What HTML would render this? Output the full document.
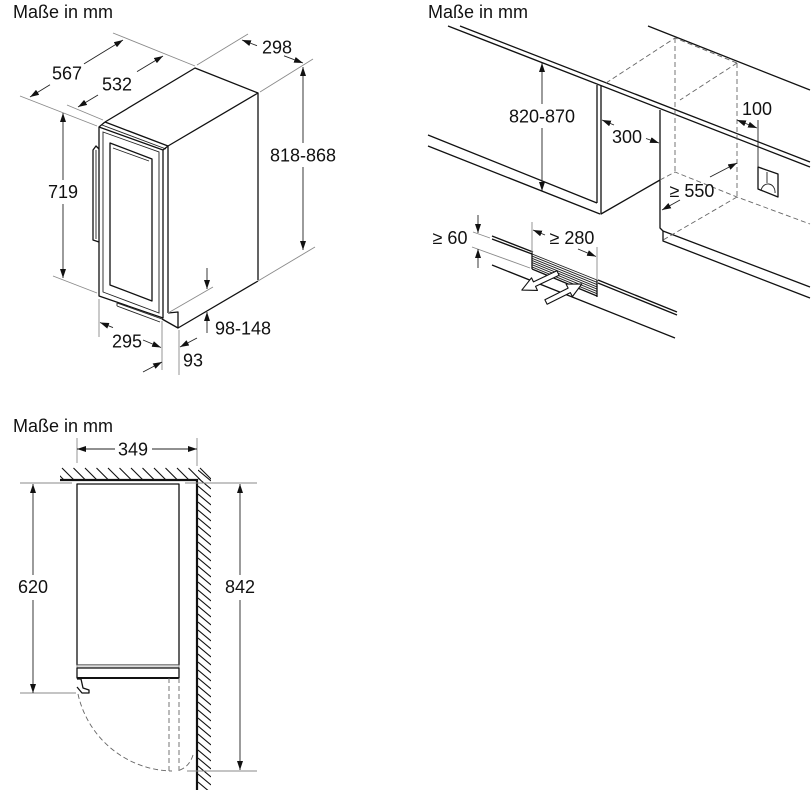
<!DOCTYPE html>
<html><head><meta charset="utf-8">
<style>
html,body{margin:0;padding:0;background:#fff;}
svg{display:block;}
text{font-family:"Liberation Sans",Arial,sans-serif;font-size:18px;fill:#111;}
.m{stroke:#111;stroke-width:1.3;fill:none;stroke-linejoin:round}
.t{stroke:#222;stroke-width:0.9;fill:none}
.d{stroke:#222;stroke-width:0.9;fill:none}
.e{stroke:#8a8a8a;stroke-width:0.9;fill:none}
.k{stroke:#666;stroke-width:0.9;fill:none;stroke-dasharray:5 3}
.h{stroke:#111;stroke-width:1.1;fill:none}
</style></head><body>
<svg width="811" height="790" viewBox="0 0 811 790" xmlns="http://www.w3.org/2000/svg">
<defs>
<marker id="a" viewBox="0 0 9 6" refX="9" refY="3" markerWidth="9" markerHeight="6" markerUnits="userSpaceOnUse" orient="auto-start-reverse"><path d="M0,0 L9,3 L0,6 z" fill="#111"/></marker>
<clipPath id="cc"><polygon points="60,467 211,467 211,480 60,480"/></clipPath>
<clipPath id="cw"><polygon points="198,467 211,467 211,790 198,790"/></clipPath>
</defs>

<!-- ============ DRAWING 1 ============ -->
<text x="13" y="18">Maße in mm</text>

<!-- top face -->
<path class="m" d="M105,122 L195,68 L258,93 L168,146"/>
<path class="m" d="M105,122 L168,146"/>
<path class="t" d="M102,125 L166,149"/>
<!-- side face -->
<path class="m" d="M168,146 V313"/>
<path class="m" d="M258,93 V280"/>
<path class="m" d="M178,328 L258,281"/>
<!-- plinth -->
<path class="m" d="M168,313 L178,312 V328 L162,319"/>
<!-- door -->
<path class="m" d="M99,127 L163,150 L163,318 L99,296 Z"/>
<path class="m" d="M99,127 L105,122 M163,150 L168,146"/>
<path class="t" d="M103,132 L159,152 L159,313 L103,292 Z"/>
<path class="m" d="M110,143 L152,159 L152,301 L110,285 Z"/>
<path class="t" d="M113,148 L149,161"/>
<!-- rail under door -->
<path class="t" d="M117,303 L162,319 M117,306 L160,322 M117,303 V306"/>
<!-- handle -->
<path class="m" d="M99,149 L96,146 L93,150 V240 L99,242"/>
<path class="t" d="M96,150 V239"/>

<!-- extension lines -->
<path class="e" d="M20,96 L97,126"/>
<path class="e" d="M67,105 L103,120"/>
<path class="e" d="M113,33 L195,66"/>
<path class="e" d="M197,65 L248,34"/>
<path class="e" d="M260,92 L313,59"/>
<path class="e" d="M258,281 L315,247"/>
<path class="e" d="M53,276 L97,293"/>
<path class="e" d="M99,299 V337"/>
<path class="e" d="M162,321 V370"/>
<path class="e" d="M179,330 V375"/>
<path class="e" d="M168,313 L213,287"/>

<!-- dimension lines -->
<path class="d" marker-end="url(#a)" d="M50,84.7 L30,97"/>
<path class="d" marker-end="url(#a)" d="M84,63.9 L123,40"/>
<path class="d" marker-end="url(#a)" d="M98,95 L78,107"/>
<path class="d" marker-end="url(#a)" d="M137,71.6 L163,56"/>
<path class="d" marker-end="url(#a)" d="M257,45.7 L242,40"/>
<path class="d" marker-end="url(#a)" d="M284,55.8 L303,63"/>
<path class="d" marker-end="url(#a)" d="M303,143 L303,67"/>
<path class="d" marker-end="url(#a)" d="M303,167 L303,250"/>
<path class="d" marker-end="url(#a)" d="M63,180 L63,113"/>
<path class="d" marker-end="url(#a)" d="M63,204 L63,278"/>
<path class="d" marker-end="url(#a)" d="M113,327.6 L100,322.5"/>
<path class="d" marker-end="url(#a)" d="M143,340 L161,347.5"/>
<path class="d" marker-end="url(#a)" d="M143,372 L162,362"/>
<path class="d" marker-end="url(#a)" d="M197,338 L180,347"/>
<path class="d" marker-end="url(#a)" d="M207,333 L207,312"/>
<path class="d" marker-end="url(#a)" d="M207,268 L207,289"/>

<text x="67" y="79.5" text-anchor="middle">567</text>
<text x="117" y="90.5" text-anchor="middle">532</text>
<text x="277" y="53.5" text-anchor="middle">298</text>
<text x="303" y="161.5" text-anchor="middle">818-868</text>
<text x="63" y="198" text-anchor="middle">719</text>
<text x="127" y="347.5" text-anchor="middle">295</text>
<text x="193" y="366.5" text-anchor="middle">93</text>
<text x="243" y="334.5" text-anchor="middle">98-148</text>

<!-- ============ DRAWING 2 ============ -->
<text x="428" y="18">Maße in mm</text>

<path class="m" d="M448,26 L810,167"/>
<path class="m" d="M460,26 L810,162"/>
<path class="m" d="M648,26 L810,90"/>
<path class="m" d="M428,135 L597,203"/>
<path class="m" d="M428,146 L600,214"/>
<path class="m" d="M597,85 V203"/>
<path class="m" d="M601,86 V214 L660,180"/>
<path class="m" d="M660,110 V228 L663,231 L810,287"/>
<path class="m" d="M663,231 V241 L810,298"/>

<!-- dashed niche -->
<path class="k" d="M606,83 L675,38 L737,63"/>
<path class="k" d="M675,38 V172"/>
<path class="k" d="M737,63 V197"/>
<path class="k" d="M660,180 L675,172 L737,197 L810,224"/>
<path class="k" d="M737,197 L663,240"/>
<path class="k" d="M737,63 L680,100"/>

<!-- 820-870 -->
<path class="d" marker-end="url(#a)" d="M542,104 L542,63"/>
<path class="d" marker-end="url(#a)" d="M542,128 L542,191"/>
<!-- 300 -->
<path class="d" marker-end="url(#a)" d="M614,125 L602,120"/>
<path class="d" marker-end="url(#a)" d="M646,138.5 L659,143"/>
<!-- 100 -->
<path class="d" marker-end="url(#a)" d="M747,124 L737,120"/>
<path class="d" marker-end="url(#a)" d="M747,124 L757,128"/>
<path class="d" d="M758,120 V167"/>
<path class="m" d="M758,167 L778,174 L778,197 L758,189 Z"/>
<path class="t" d="M767,172 V183 M761,191 A7,8 0 0 1 775,193"/>
<!-- >=550 -->
<path class="d" marker-end="url(#a)" d="M710,177 L737,163"/>
<path class="d" marker-end="url(#a)" d="M680,200 L662,210"/>

<!-- vent area -->
<path class="m" d="M492,236 L533,252"/>
<path class="m" d="M492,239 L532,254"/>
<path class="m" d="M532,252 V269"/>
<path class="t" d="M532,254 L597,280 M532,256.1 L597,282.3 M532,258.3 L597,284.6 M532,260.4 L597,286.9 M532,262.6 L597,289.1 M532,264.7 L597,291.4 M532,266.9 L597,293.7"/>
<path class="m" d="M532,269 L597,296 M597,280 V297"/>
<path class="m" d="M598,280 L677,312"/>
<path class="m" d="M598,283 L677,315"/>
<path class="m" d="M492,265 L675,338"/>
<path class="e" d="M473,232 L490,238"/>
<path class="e" d="M472,247 L530,268"/>
<path class="e" d="M532,222 V253"/>
<path class="e" d="M597,247 V280"/>
<path class="d" marker-end="url(#a)" d="M478,215 L478,233"/>
<path class="d" marker-end="url(#a)" d="M478,268 L478,249"/>
<path class="d" marker-end="url(#a)" d="M545,235 L533,230"/>
<path class="d" marker-end="url(#a)" d="M578,249 L596,256.5"/>
<!-- outline arrows -->
<polygon transform="translate(558,273) rotate(154.7)" points="0,-2.5 26,-2.5 26,-7 40,0 26,7 26,2.5 0,2.5" fill="#fff" stroke="#111" stroke-width="1.1" stroke-linejoin="round"/>
<polygon transform="translate(546,302) rotate(-26.6)" points="0,-2.5 26,-2.5 26,-7 40,0 26,7 26,2.5 0,2.5" fill="#fff" stroke="#111" stroke-width="1.1" stroke-linejoin="round"/>

<text x="542" y="122.5" text-anchor="middle">820-870</text>
<text x="627" y="143" text-anchor="middle">300</text>
<text x="757" y="115" text-anchor="middle">100</text>
<text x="692" y="197" text-anchor="middle">≥ 550</text>
<text x="450" y="244" text-anchor="middle">≥ 60</text>
<text x="572" y="244" text-anchor="middle">≥ 280</text>

<!-- ============ DRAWING 3 ============ -->
<text x="13" y="432">Maße in mm</text>

<!-- hatch ceiling -->
<g clip-path="url(#cc)">
<path class="h" d="M62,468 l12,12 M73.5,468 l12,12 M85,468 l12,12 M96.5,468 l12,12 M108,468 l12,12 M119.5,468 l12,12 M131,468 l12,12 M142.5,468 l12,12 M154,468 l12,12 M165.5,468 l12,12 M177,468 l12,12 M188.5,468 l12,12 M200,468 l12,12 M52,468 l12,12"/>
</g>
<g clip-path="url(#cw)">
<path class="h" d="M198,470 l13,11 M198,478 l13,11 M198,486 l13,11 M198,494 l13,11 M198,502 l13,11 M198,510 l13,11 M198,518 l13,11 M198,526 l13,11 M198,534 l13,11 M198,542 l13,11 M198,550 l13,11 M198,558 l13,11 M198,566 l13,11 M198,574 l13,11 M198,582 l13,11 M198,590 l13,11 M198,598 l13,11 M198,606 l13,11 M198,614 l13,11 M198,622 l13,11 M198,630 l13,11 M198,638 l13,11 M198,646 l13,11 M198,654 l13,11 M198,662 l13,11 M198,670 l13,11 M198,678 l13,11 M198,686 l13,11 M198,694 l13,11 M198,702 l13,11 M198,710 l13,11 M198,718 l13,11 M198,726 l13,11 M198,734 l13,11 M198,742 l13,11 M198,750 l13,11 M198,758 l13,11 M198,766 l13,11 M198,774 l13,11 M198,782 l13,11"/>
</g>
<path d="M60,480 H198 M197,479 V790" stroke="#111" stroke-width="2.2" fill="none"/>

<!-- appliance -->
<path class="m" d="M77,484 H179 V665 H77 Z"/>
<rect x="77" y="665" width="102" height="3" fill="#ddd" stroke="#777" stroke-width="0.7"/>
<path class="m" d="M77,668 H179 V678 H77 Z"/>
<path d="M77,678 H179" stroke="#111" stroke-width="2"/>
<path class="m" d="M77,679 L81,679 L83,688 L89,690 L89,693 L82,693 L77,687"/>

<!-- door swing dashed -->
<path class="k" d="M169,678 V771 M179,678 V771"/>
<path class="k" d="M78,694 A98,98 0 0 0 172,771"/>
<path class="k" d="M193,755 Q189,768 177,771"/>

<!-- extension lines -->
<path class="e" d="M20,483 H72 M185,483 H257 M20,693 H76 M187,771 H257 M77,438 V463 M197,438 V466"/>

<!-- dimensions -->
<path class="d" marker-end="url(#a)" d="M115,449 H77"/>
<path class="d" marker-end="url(#a)" d="M152,449 H197"/>
<path class="d" marker-end="url(#a)" d="M33,575 V484"/>
<path class="d" marker-end="url(#a)" d="M33,600 V693"/>
<path class="d" marker-end="url(#a)" d="M240,575 V484"/>
<path class="d" marker-end="url(#a)" d="M240,600 V770"/>

<text x="133" y="455.5" text-anchor="middle">349</text>
<text x="33" y="593" text-anchor="middle">620</text>
<text x="240" y="593" text-anchor="middle">842</text>
</svg>
</body></html>
